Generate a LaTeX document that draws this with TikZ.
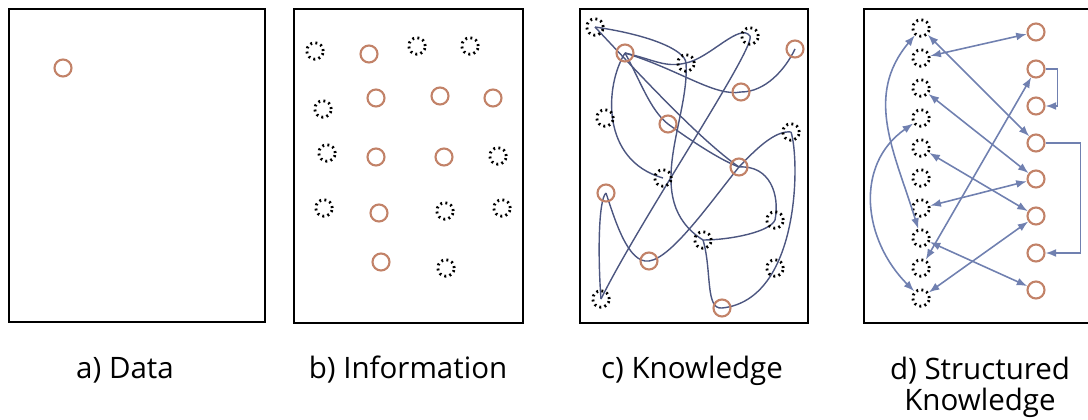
\documentclass[tikz,border=0pt]{standalone}
\usepackage{fontspec}
\setmainfont{Open Sans}
\usetikzlibrary{arrows.meta,backgrounds}

\definecolor{datared}{RGB}{194,130,104}
\definecolor{linkgray}{RGB}{76,86,128}
\definecolor{linkblue}{RGB}{112,128,176}

\begin{document}
\begin{tikzpicture}[x=0.02cm,y=-0.02cm,
	>={Latex[length=6pt,width=4.5pt]},
	frame/.style={draw=black,line width=1.4pt},
	datum/.style={circle,draw=datared,fill=white,line width=1.2pt,minimum size=0.34cm,inner sep=0pt},
	blank/.style={circle,draw=black,line width=1.6pt,dash pattern=on 1.1pt off 1.9pt,minimum size=0.33cm,inner sep=0pt},
	link/.style={draw=linkgray,line width=0.8pt},
	relation/.style={draw=linkblue,line width=0.9pt},
	caption/.style={font=\fontsize{16.8}{17.5}\selectfont,inner sep=0pt}]
	\useasboundingbox (0,0) rectangle (1088,419);
	%panel a
		\draw[frame] (9,9) rectangle (265,322);
		\node[datum] (a1) at (63,68) {};
	%panel b
		\draw[frame] (294,9) rectangle (523,323);
		\node[blank] (bd1) at (315,51) {};
		\node[blank] (bd2) at (417,46) {};
		\node[blank] (bd3) at (470,46) {};
		\node[blank] (bd4) at (323,109) {};
		\node[blank] (bd5) at (327,153) {};
		\node[blank] (bd6) at (498,156) {};
		\node[blank] (bd7) at (324,208) {};
		\node[blank] (bd8) at (445,211) {};
		\node[blank] (bd9) at (502,208) {};
		\node[blank] (bd10) at (446,268) {};
		\node[datum] (bo1) at (369,54) {};
		\node[datum] (bo2) at (376,98) {};
		\node[datum] (bo3) at (440,96) {};
		\node[datum] (bo4) at (493,98) {};
		\node[datum] (bo5) at (376,157) {};
		\node[datum] (bo6) at (444,157) {};
		\node[datum] (bo7) at (379,213) {};
		\node[datum] (bo8) at (381,262) {};
	%panel c
		\draw[frame] (580,9) rectangle (808,323);
	%points
		\node[blank] (c1) at (595,27) {};
		\node[datum,fill=none] (c2) at (625,53) {};
		\node[blank] (c3) at (686,63) {};
		\node[blank] (c4) at (750,36) {};
		\node[datum,fill=none] (c5) at (795,49) {};
		\node[datum,fill=none] (c6) at (741,92) {};
		\node[blank] (c7) at (605,118) {};
		\node[datum,fill=none] (c8) at (668,124) {};
		\node[blank] (c9) at (791,132) {};
		\node[datum,fill=none] (c10) at (739,167) {};
		\node[blank] (c11) at (663,178) {};
		\node[datum,fill=none] (c12) at (606,193) {};
		\node[blank] (c13) at (775,220) {};
		\node[blank] (c14) at (703,240) {};
		\node[datum,fill=none] (c15) at (649,261) {};
		\node[blank] (c16) at (775,268) {};
		\node[blank] (c17) at (601,299) {};
		\node[datum,fill=none] (c18) at (722,308) {};
	%curves, kept under the points
	\begin{scope}[on background layer]
		\draw[link] (c1.center) .. controls (650,35) and (685,50) .. (c3.center) .. controls (690,120) and (640,200) .. (c14.center);
		\draw[link] (c2.center) .. controls (655,60) and (665,68) .. (c3.center) .. controls (710,58) and (740,22) .. (c4.center) .. controls (756,48) and (640,220) .. (c17.center);
		\draw[link] (c2.center) .. controls (680,70) and (715,97) .. (c6.center) .. controls (765,92) and (785,70) .. (c5.center);
		\draw[link] (c1.center) .. controls (640,75) and (700,140) .. (c10.center);
		\draw[link] (c2.center) .. controls (640,80) and (650,110) .. (c8.center) .. controls (690,140) and (720,160) .. (c10.center);
		\draw[link] (c2.center) .. controls (605,85) and (600,160) .. (c11.center);
		\draw[link] (c9.center) .. controls (775,130) and (755,150) .. (c10.center);
		\draw[link] (c9.center) .. controls (800,160) and (800,300) .. (c18.center);
		\draw[link] (c10.center) .. controls (770,165) and (780,195) .. (c13.center) .. controls (770,232) and (730,240) .. (c14.center) .. controls (712,270) and (705,310) .. (c18.center);
		\draw[link] (c17.center) .. controls (598,260) and (598,200) .. (c12.center);
		\draw[link] (c12.center) .. controls (615,220) and (628,264) .. (c15.center);
		\draw[link] (c15.center) .. controls (672,258) and (712,200) .. (c10.center);
	\end{scope}
	%panel d
		\draw[frame] (864,9) rectangle (1092,323);
		\node[blank] (dd0) at (921,28) {};
		\node[blank] (dd1) at (921,58) {};
		\node[blank] (dd2) at (921,88) {};
		\node[blank] (dd3) at (921,118) {};
		\node[blank] (dd4) at (921,148) {};
		\node[blank] (dd5) at (921,178) {};
		\node[blank] (dd6) at (921,208) {};
		\node[blank] (dd7) at (921,238) {};
		\node[blank] (dd8) at (921,268) {};
		\node[blank] (dd9) at (921,298) {};
		\node[datum] (do0) at (1036,32) {};
		\node[datum] (do1) at (1036,69) {};
		\node[datum] (do2) at (1036,106) {};
		\node[datum] (do3) at (1036,143) {};
		\node[datum] (do4) at (1036,179) {};
		\node[datum] (do5) at (1036,216) {};
		\node[datum] (do6) at (1036,253) {};
		\node[datum] (do7) at (1036,290) {};
	%relations
		\draw[relation,<->] (dd0) -- (do3);
		\draw[relation,<->] (dd1) -- (do0);
		\draw[relation,<->] (dd2) -- (do4);
		\draw[relation,<->] (dd4) -- (do5);
		\draw[relation,<->] (dd6) -- (do4);
		\draw[relation,<->] (dd7) -- (do7);
		\draw[relation,<->] (dd9) -- (do5);
		\draw[relation,<->] (dd8) -- (do1);
		\draw[relation,<->] (dd0) to[out=230,in=107,looseness=1.05] (dd7);
		\draw[relation,<->] (dd3) to[out=215,in=135,looseness=1.1] (dd9);
		\draw[relation,->] (do1.east) -- ++(12,0) |- (do2.east);
		\draw[relation,->] (do3.east) -- ++(35,0) |- (do6.east);
	%labels
		\node[caption,anchor=base] (la) at (125,378) {a) Data};
		\node[caption,anchor=base] (lb) at (408,378) {b) Information};
		\node[caption,anchor=base] (lc) at (692,378) {c) Knowledge};
		\node[caption,align=center,anchor=north] (ld) at (980,357) {d) Structured\\Knowledge};
\end{tikzpicture}
\end{document}
